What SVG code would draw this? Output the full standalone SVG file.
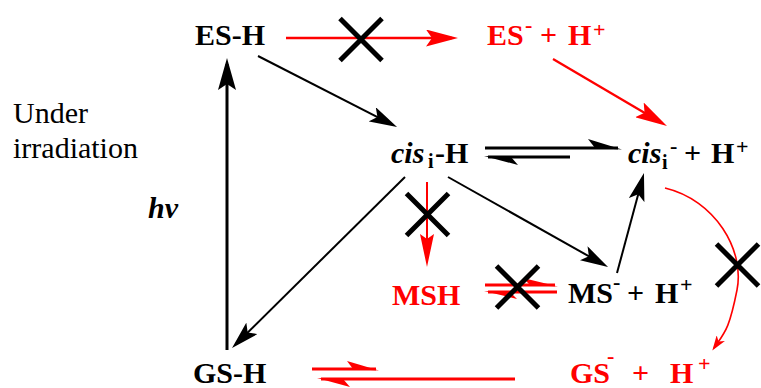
<svg xmlns="http://www.w3.org/2000/svg" width="761" height="388" viewBox="0 0 761 388">
<style>
.red{fill:#ff0000;}
.lk{stroke:#000;fill:none;stroke-width:2;}
.lr{stroke:#ff0000;fill:none;stroke-width:2.3;}
.cross{stroke:#000;stroke-width:5;fill:none;}
</style>
<defs>
<marker id="ah" viewBox="0 0 28 16" refX="22" refY="8" markerWidth="28" markerHeight="16" orient="auto" markerUnits="userSpaceOnUse"><path d="M0,0 L28,8 L0,16 L6,8 Z" fill="#000"/></marker>
<marker id="ahv" viewBox="0 0 32 18" refX="26" refY="9" markerWidth="32" markerHeight="18" orient="auto" markerUnits="userSpaceOnUse"><path d="M0,0 L32,9 L0,18 L6,9 Z" fill="#000"/></marker>
<marker id="ahr" viewBox="0 0 32 17" refX="26" refY="8.5" markerWidth="32" markerHeight="17" orient="auto" markerUnits="userSpaceOnUse"><path d="M0,0 L32,8.5 L0,17 L6,8.5 Z" fill="#ff0000"/></marker>
<marker id="ahrn" viewBox="0 0 33 14" refX="27" refY="7" markerWidth="33" markerHeight="14" orient="auto" markerUnits="userSpaceOnUse"><path d="M0,0 L33,7 L0,14 L5,7 Z" fill="#ff0000"/></marker>
<marker id="ahrs" viewBox="0 0 15 10" refX="12" refY="5" markerWidth="15" markerHeight="10" orient="auto" markerUnits="userSpaceOnUse"><path d="M0,0 L15,5 L0,10 L4,5 Z" fill="#ff0000"/></marker>
<path id="x" d="M-21,-21 L21,21 M21,-21 L-21,21"/>
</defs>

<g id="label-irradiation">
<text x="13" y="123" font-family="Liberation Serif" font-size="30">Under</text>
<text x="13" y="158" font-family="Liberation Serif" font-size="30">irradiation</text>
</g>
<g id="label-hv"><text font-family="Liberation Serif" font-size="30" font-weight="bold" font-style="italic" x="148" y="218">hv</text></g>

<g id="node-ESH"><text font-family="Liberation Serif" font-size="30" font-weight="bold" x="195" y="45">ES-H</text></g>
<g id="node-ES-"><text class="red" font-family="Liberation Serif" font-size="30" font-weight="bold" x="487" y="45">ES<tspan font-size="22" x="525" dy="-13">-</tspan><tspan x="540" dy="13">+</tspan><tspan x="568">H</tspan><tspan font-size="22" x="593" dy="-8.5">+</tspan></text></g>
<g id="node-cisH"><text font-family="Liberation Serif" font-size="30" font-weight="bold" x="391" y="163"><tspan font-style="italic">cis</tspan><tspan font-size="20" x="428" dy="5">i</tspan><tspan x="435" dy="-5">-H</tspan></text></g>
<g id="node-cis-"><text font-family="Liberation Serif" font-size="30" font-weight="bold" x="628" y="163"><tspan font-style="italic">cis</tspan><tspan font-size="20" x="662" dy="6">i</tspan><tspan font-size="22" x="670" dy="-16.5">-</tspan><tspan x="684" dy="10.5">+</tspan><tspan x="711">H</tspan><tspan font-size="22" x="736" dy="-9">+</tspan></text></g>
<g id="node-MSH"><text class="red" font-family="Liberation Serif" font-size="30" font-weight="bold" x="392" y="305">MSH</text></g>
<g id="node-MS-"><text font-family="Liberation Serif" font-size="30" font-weight="bold" x="568" y="303">MS<tspan font-size="22" x="613" dy="-14.5">-</tspan><tspan x="627" dy="14.5">+</tspan><tspan x="655">H</tspan><tspan font-size="22" x="680" dy="-11.5">+</tspan></text></g>
<g id="node-GSH"><text font-family="Liberation Serif" font-size="30" font-weight="bold" x="193" y="383">GS-H</text></g>
<g id="node-GS-"><text class="red" font-family="Liberation Serif" font-size="30" font-weight="bold" x="570" y="383">GS<tspan font-size="22" x="607" dy="-20">-</tspan><tspan x="632" dy="20">+</tspan><tspan x="670">H</tspan><tspan font-size="22" x="698" dy="-12">+</tspan></text></g>

<g id="connectors">
<line class="lr" x1="286" y1="38" x2="452" y2="38" marker-end="url(#ahr)"/>
<line class="lr" x1="553" y1="59" x2="661.8" y2="123" marker-end="url(#ahr)"/>
<line class="lk" x1="258" y1="56" x2="391.7" y2="124.3" marker-end="url(#ah)"/>
<line class="lk" x1="448" y1="177" x2="602.8" y2="264.1" marker-end="url(#ah)"/>
<line class="lk" x1="617" y1="273" x2="642.4" y2="178.8" marker-end="url(#ah)"/>
<line class="lk" x1="405" y1="177" x2="236.3" y2="343.8" marker-end="url(#ah)"/>
<line class="lk" style="stroke-width:3" x1="227" y1="350" x2="227" y2="64" marker-end="url(#ahv)"/>
<line class="lr" style="stroke-width:2" x1="427" y1="182" x2="427" y2="261" marker-end="url(#ahrn)"/>
<path class="lr" style="stroke-width:1.6" d="M665,188 C715,200 745,250 737,290 S725,332 714,348" marker-end="url(#ahrs)"/>
<line class="lk" style="stroke-width:3" x1="485" y1="148" x2="618" y2="148"/>
<polygon points="622,149.5 588,139 595,148" fill="#000"/>
<line class="lk" style="stroke-width:3" x1="488" y1="157" x2="570" y2="157"/>
<polygon points="484,156 518,165 511,157" fill="#000"/>
<line class="lr" style="stroke-width:3" x1="485" y1="285" x2="555" y2="285"/>
<polygon points="558,286.5 523,278 530,285" fill="#ff0000"/>
<line class="lr" style="stroke-width:3" x1="488" y1="292" x2="557" y2="292"/>
<polygon points="484,291 517,299 510,292" fill="#ff0000"/>
<line class="lr" style="stroke-width:3" x1="312" y1="369" x2="376" y2="369"/>
<polygon points="379,370.5 347,361 353,369" fill="#ff0000"/>
<line class="lr" style="stroke-width:3" x1="321" y1="379" x2="515" y2="379"/>
<polygon points="317,378 350,387 343,379" fill="#ff0000"/>
<use href="#x" class="cross" x="361" y="39.5"/>
<use href="#x" class="cross" x="427.5" y="214.5"/>
<use href="#x" class="cross" x="517.5" y="287"/>
<use href="#x" class="cross" x="737.5" y="265"/>
</g>
</svg>
